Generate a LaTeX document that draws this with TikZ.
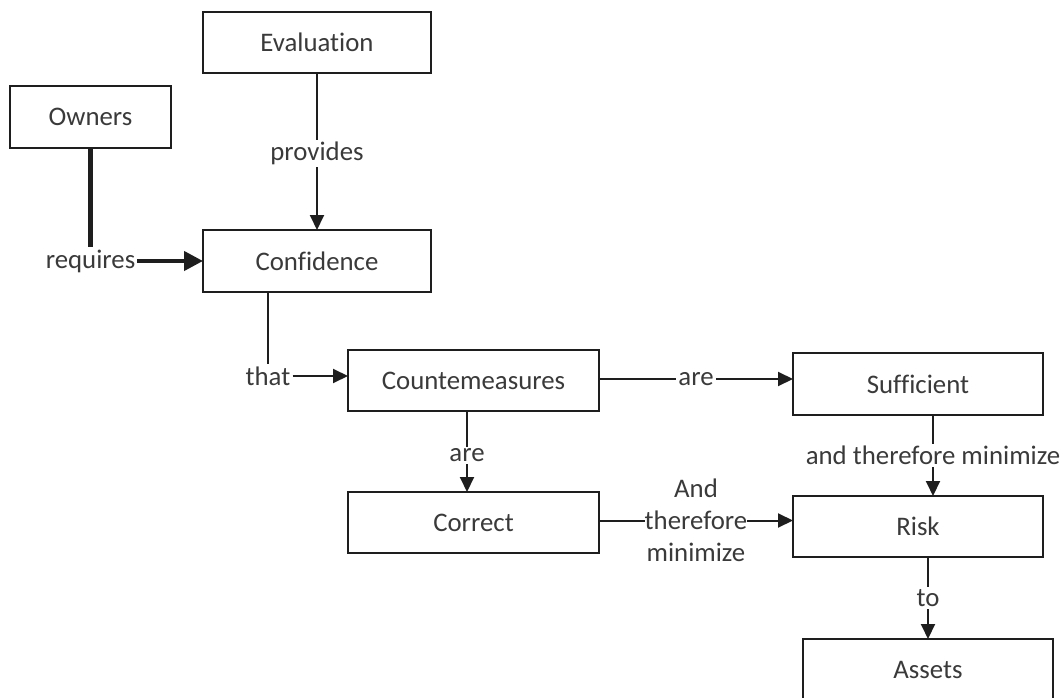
\documentclass[tikz,border=0pt]{standalone}
\usepackage{fontspec}
\setmainfont[Ligatures=NoCommon]{Carlito}
\usetikzlibrary{arrows.meta}
\definecolor{ink}{HTML}{1E1E1E}
\definecolor{txt}{HTML}{3A3A3A}
\tikzset{
  box/.style={draw=ink, line width=1.9pt, fill=white, inner sep=0pt, outer sep=0pt,
    text=txt, font=\fontsize{26.8}{32}\selectfont},
  lbl/.style={fill=white, inner sep=2pt, text=txt, font=\fontsize{26.8}{32}\selectfont},
  conn/.style={draw=ink, line width=2pt},
  arr/.style={conn, -{Triangle[length=15pt,width=14pt]}},
  heavy/.style={draw=ink, line width=4.2pt},
  heavyarr/.style={heavy, -{Triangle[length=19pt,width=19pt]}},
}
\begin{document}
\begin{tikzpicture}[x=1pt,y=-1pt]
\useasboundingbox (0,0) rectangle (1063,698);
\clip (0,0) rectangle (1063,698);

% boxes
\node[box, minimum width=228pt, minimum height=61pt] (eval) at (317,42.5) {Evaluation};
\node[box, minimum width=161pt, minimum height=62pt] (owners) at (90.5,117) {Owners};
\node[box, minimum width=228pt, minimum height=62pt] (conf) at (317,261) {Confidence};
\node[box, minimum width=251pt, minimum height=61pt] (cm) at (473.5,380.5) {Countemeasures};
\node[box, minimum width=250pt, minimum height=62pt] (suff) at (918,384) {Sufficient};
\node[box, minimum width=251pt, minimum height=61pt] (corr) at (473.5,522.5) {Correct};
\node[box, minimum width=250pt, minimum height=61pt] (risk) at (918,526.5) {Risk};
\node[box, minimum width=250pt, minimum height=62pt] (assets) at (928,670) {Assets};

% corner labels
\node[lbl] (req) at (owners |- conf) {requires};
\node[lbl] (that) at (268,376) {that};

% connectors
\draw[arr] (eval) -- node[lbl, pos=0.51] {provides} (conf);
\draw[heavy] (owners) -- (req);
\draw[heavyarr] (req) -- (conf);
\draw[conn] (conf.south -| that) -- (that);
\draw[arr] (that) -- (that -| cm.west);
\draw[arr] ([yshift=1.5pt]cm.east) -- node[lbl] {are} ([yshift=1.5pt]cm.east -| suff.west);
\draw[arr] ([xshift=-6.5pt]cm.south) -- node[lbl, pos=0.55] {are} ([xshift=-6.5pt]corr.north);
\draw[arr] ([xshift=15pt]suff.south) -- node[lbl, pos=0.5] {and therefore minimize} ([xshift=15pt]risk.north);
\draw[arr] ([yshift=2pt]corr.east) -- node[lbl, inner sep=0pt, align=center] {And\\therefore\\minimize} ([yshift=2pt]corr.east -| risk.west);
\draw[arr] (risk.south -| assets) -- node[lbl] {to} (assets);
\end{tikzpicture}
\end{document}
